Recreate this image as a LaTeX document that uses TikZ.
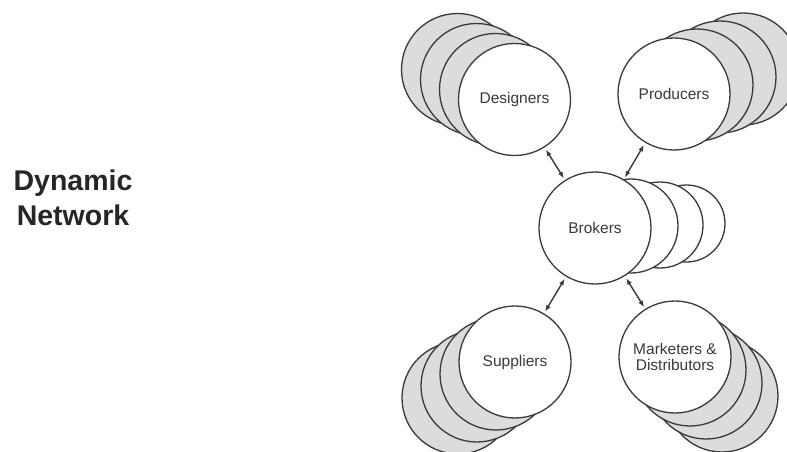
\documentclass[tikz,border=0pt]{standalone}
\usepackage{fontspec}
\setmainfont{Liberation Sans}
\usetikzlibrary{arrows.meta}
\definecolor{inkc}{HTML}{3A3A3A}
\definecolor{backfill}{HTML}{DCDCDC}
\tikzset{
  front/.style={circle, draw=inkc, line width=1.3pt, fill=white, minimum size=#1, inner sep=0pt,
    text=inkc, font=\fontsize{15.5}{17}\selectfont, align=center},
  front/.default=112pt,
  back/.style={circle, draw=inkc, line width=1.3pt, fill=backfill, minimum size=112pt, inner sep=0pt},
  backw/.style={circle, draw=inkc, line width=1.3pt, fill=white, minimum size=#1, inner sep=0pt},
  link/.style={{Latex[length=6.5pt,width=5pt]}-{Latex[length=6.5pt,width=5pt]}, draw=inkc, line width=1.4pt,
    shorten <=2.5pt, shorten >=2pt},
  title/.style={anchor=base, text=black!85, font=\fontsize{28.5}{34}\selectfont\bfseries}
}
\begin{document}
\begin{tikzpicture}[x=1pt,y=-1pt]
\useasboundingbox (0,0) rectangle (787,452);
\clip (0,0) rectangle (787,452);
\fill[white] (0,0) rectangle (787,452);
% title
\node[title] (dyn) at (73,190) {Dynamic};
\node[title] (net) at (73,225) {Network};
% Designers
\node[back] (d1) at (457.5,69.5) {};
\node[back] (d2) at (476.5,79.5) {};
\node[back] (d3) at (495.5,89.5) {};
\node[front] (des) at (514.5,99.5) {Designers};
% Producers
\node[back] (p1) at (743,69) {};
\node[back] (p2) at (720,77) {};
\node[back] (p3) at (697,85) {};
\node[front] (pro) at (674,94) {Producers};
% Suppliers
\node[back] (s1) at (458,398) {};
\node[back] (s2) at (477,386) {};
\node[back] (s3) at (496,374) {};
\node[front] (sup) at (515,362) {Suppliers};
% Marketers
\node[back] (m1) at (722,396) {};
\node[back] (m2) at (706,383) {};
\node[back] (m3) at (690,370) {};
\node[front] (mar) at (675,357) {Marketers \&\\[-1pt]Distributors};
% Brokers
\node[backw=77pt] (b1) at (686.5,223.5) {};
\node[backw=86pt] (b2) at (660,225) {};
\node[backw=94pt] (b3) at (631,226) {};
\node[front] (bro) at (595,228) {Brokers};
% links
\draw[link] (des) -- (bro);
\draw[link] (pro) -- (bro);
\draw[link] (bro) -- (sup);
\draw[link] (bro) -- (mar);
\end{tikzpicture}
\end{document}
